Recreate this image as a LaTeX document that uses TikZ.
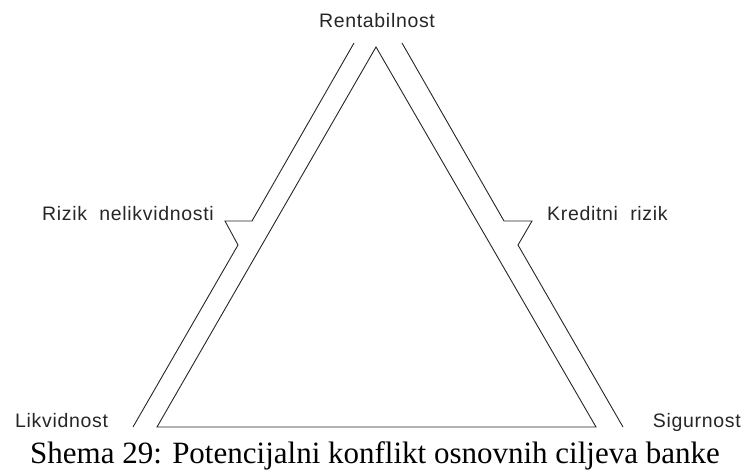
\documentclass[tikz,border=0pt]{standalone}
\usepackage{fontspec}
\setmainfont{Liberation Serif}
\newfontfamily\labfont[LetterSpace=3.5]{Liberation Sans}
\begin{document}
\begin{tikzpicture}[x=1pt,y=-1pt,
  edge/.style={draw=black!85,line width=0.9pt,line join=miter},
  lab/.style={inner sep=0pt,font=\labfont\fontsize{19.5}{22}\selectfont,text=black!85},
  captext/.style={inner sep=0pt,font=\fontsize{31}{36}\selectfont}]
\useasboundingbox (0,0) rectangle (744,470);
% inner triangle
\coordinate (top) at (376,47);
\coordinate (bl) at (157,427);
\coordinate (br) at (596,427);
\draw[edge] (top) -- (bl) -- (br) -- cycle;
% left outer
\coordinate (l1) at (354,43);
\coordinate (l2) at (252,221);
\coordinate (l3) at (225,221);
\coordinate (l4) at (238,245);
\coordinate (l5) at (133,427);
\draw[edge] (l1) -- (l2) -- (l3) -- (l4) -- (l5);
% right outer
\coordinate (r1) at (402,43);
\coordinate (r2) at (504,221);
\coordinate (r3) at (532,221);
\coordinate (r4) at (518,245);
\coordinate (r5) at (623,427);
\draw[edge] (r1) -- (r2) -- (r3) -- (r4) -- (r5);
% labels
\node[lab,anchor=base] (rent) at (377,28) {Rentabilnost};
\node[lab,anchor=base west] (rizn) at (42,221) {Rizik\ \ nelikvidnosti};
\node[lab,anchor=base west] (kred) at (547,221) {Kreditni\ \ rizik};
\node[lab,anchor=base west] (likv) at (15,427) {Likvidnost};
\node[lab,anchor=base east] (sig) at (741,427) {Sigurnost};
\node[captext,anchor=base] (caption) at (375,463) {Shema 29: Potencijalni konflikt osnovnih ciljeva banke};
\end{tikzpicture}
\end{document}
